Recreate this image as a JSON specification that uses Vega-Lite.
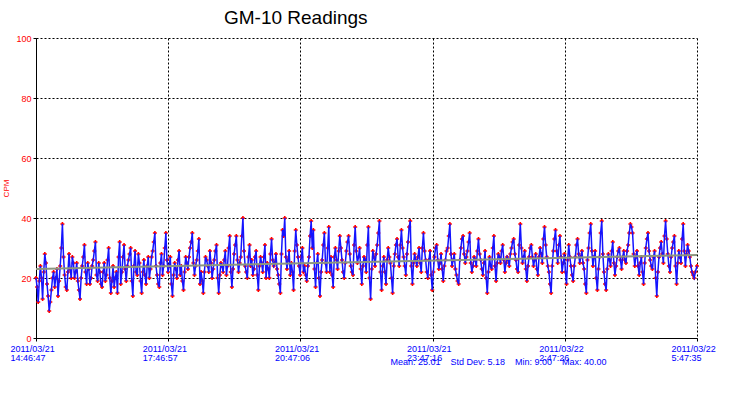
{
  "$schema": "https://vega.github.io/schema/vega-lite/v6.json",
  "width": 661,
  "height": 300,
  "autosize": {"type": "none"},
  "padding": {"left": 36, "top": 38, "right": 35, "bottom": 59},
  "background": "white",
  "config": {"view": {"stroke": null}, "font": "Liberation Sans"},
  "title": {"text": "GM-10 Readings", "anchor": "start", "dx": 221, "offset": 6, "fontSize": 19, "fontWeight": "normal", "color": "#000000", "font": "Liberation Sans"},
  "datasets": {
    "readings": [
      {"m":0,"v":20},{"m":3,"v":12},{"m":6,"v":24},{"m":9,"v":13},{"m":12,"v":28},{"m":15,"v":18},{"m":18,"v":9},{"m":21,"v":16},{"m":24,"v":22},{"m":27,"v":20},
      {"m":30,"v":14},{"m":33,"v":24},{"m":36,"v":38},{"m":39,"v":21},{"m":42,"v":16},{"m":45,"v":28},{"m":48,"v":20},{"m":51,"v":25},{"m":54,"v":22},{"m":57,"v":19},
      {"m":60,"v":13},{"m":63,"v":24},{"m":66,"v":31},{"m":69,"v":18},{"m":72,"v":23},{"m":75,"v":20},{"m":78,"v":26},{"m":81,"v":32},{"m":84,"v":19},{"m":87,"v":22},
      {"m":90,"v":17},{"m":93,"v":25},{"m":96,"v":21},{"m":99,"v":30},{"m":102,"v":15},{"m":105,"v":24},{"m":108,"v":20},{"m":111,"v":15},{"m":114,"v":32},{"m":117,"v":22},
      {"m":120,"v":31},{"m":123,"v":19},{"m":126,"v":26},{"m":129,"v":30},{"m":132,"v":14},{"m":135,"v":29},{"m":138,"v":21},{"m":141,"v":25},{"m":144,"v":15},{"m":147,"v":26},
      {"m":150,"v":18},{"m":153,"v":27},{"m":156,"v":23},{"m":159,"v":29},{"m":162,"v":35},{"m":165,"v":21},{"m":168,"v":17},{"m":171,"v":28},{"m":174,"v":24},{"m":177,"v":35},
      {"m":180,"v":22},{"m":183,"v":27},{"m":186,"v":14},{"m":189,"v":25},{"m":192,"v":20},{"m":195,"v":29},{"m":198,"v":24},{"m":201,"v":16},{"m":204,"v":27},{"m":207,"v":23},
      {"m":210,"v":30},{"m":213,"v":35},{"m":216,"v":21},{"m":219,"v":26},{"m":222,"v":33},{"m":225,"v":22},{"m":228,"v":15},{"m":231,"v":27},{"m":234,"v":24},{"m":237,"v":29},
      {"m":240,"v":20},{"m":243,"v":26},{"m":246,"v":31},{"m":249,"v":15},{"m":252,"v":25},{"m":255,"v":22},{"m":258,"v":29},{"m":261,"v":24},{"m":264,"v":34},{"m":267,"v":17},
      {"m":270,"v":28},{"m":273,"v":34},{"m":276,"v":22},{"m":279,"v":27},{"m":282,"v":40},{"m":285,"v":24},{"m":288,"v":20},{"m":291,"v":31},{"m":294,"v":26},{"m":297,"v":23},
      {"m":300,"v":29},{"m":303,"v":16},{"m":306,"v":27},{"m":309,"v":22},{"m":312,"v":31},{"m":315,"v":25},{"m":318,"v":20},{"m":321,"v":33},{"m":324,"v":24},{"m":327,"v":28},
      {"m":330,"v":21},{"m":333,"v":15},{"m":336,"v":36},{"m":339,"v":40},{"m":342,"v":23},{"m":345,"v":29},{"m":348,"v":25},{"m":351,"v":16},{"m":354,"v":36},{"m":357,"v":27},
      {"m":360,"v":21},{"m":363,"v":30},{"m":366,"v":24},{"m":369,"v":19},{"m":372,"v":27},{"m":375,"v":39},{"m":378,"v":36},{"m":381,"v":17},{"m":384,"v":28},{"m":387,"v":14},
      {"m":390,"v":26},{"m":393,"v":35},{"m":396,"v":22},{"m":399,"v":37},{"m":402,"v":27},{"m":405,"v":17},{"m":408,"v":30},{"m":411,"v":23},{"m":414,"v":34},{"m":417,"v":26},
      {"m":420,"v":20},{"m":423,"v":29},{"m":426,"v":34},{"m":429,"v":24},{"m":432,"v":21},{"m":435,"v":37},{"m":438,"v":25},{"m":441,"v":30},{"m":444,"v":18},{"m":447,"v":27},
      {"m":450,"v":22},{"m":453,"v":37},{"m":456,"v":13},{"m":459,"v":29},{"m":462,"v":24},{"m":465,"v":31},{"m":468,"v":39},{"m":471,"v":16},{"m":474,"v":27},{"m":477,"v":18},
      {"m":480,"v":30},{"m":483,"v":25},{"m":486,"v":15},{"m":489,"v":28},{"m":492,"v":33},{"m":495,"v":24},{"m":498,"v":36},{"m":501,"v":27},{"m":504,"v":21},{"m":507,"v":32},
      {"m":510,"v":39},{"m":513,"v":18},{"m":516,"v":28},{"m":519,"v":24},{"m":522,"v":30},{"m":525,"v":22},{"m":528,"v":35},{"m":531,"v":26},{"m":534,"v":20},{"m":537,"v":29},
      {"m":540,"v":16},{"m":543,"v":27},{"m":546,"v":31},{"m":549,"v":23},{"m":552,"v":28},{"m":555,"v":19},{"m":558,"v":26},{"m":561,"v":30},{"m":564,"v":38},{"m":567,"v":24},
      {"m":570,"v":28},{"m":573,"v":21},{"m":576,"v":18},{"m":579,"v":30},{"m":582,"v":34},{"m":585,"v":25},{"m":588,"v":29},{"m":591,"v":35},{"m":594,"v":22},{"m":597,"v":27},
      {"m":600,"v":24},{"m":603,"v":33},{"m":606,"v":26},{"m":609,"v":21},{"m":612,"v":29},{"m":615,"v":15},{"m":618,"v":27},{"m":621,"v":23},{"m":624,"v":34},{"m":627,"v":19},
      {"m":630,"v":28},{"m":633,"v":25},{"m":636,"v":31},{"m":639,"v":22},{"m":642,"v":27},{"m":645,"v":24},{"m":648,"v":30},{"m":651,"v":33},{"m":654,"v":26},{"m":657,"v":22},
      {"m":660,"v":38},{"m":663,"v":25},{"m":666,"v":29},{"m":669,"v":19},{"m":672,"v":27},{"m":675,"v":31},{"m":678,"v":24},{"m":681,"v":28},{"m":684,"v":21},{"m":687,"v":30},
      {"m":690,"v":25},{"m":693,"v":37},{"m":696,"v":27},{"m":699,"v":22},{"m":702,"v":15},{"m":705,"v":29},{"m":708,"v":36},{"m":711,"v":25},{"m":714,"v":34},{"m":717,"v":22},
      {"m":720,"v":28},{"m":723,"v":18},{"m":726,"v":31},{"m":729,"v":24},{"m":732,"v":19},{"m":735,"v":27},{"m":738,"v":33},{"m":741,"v":25},{"m":744,"v":29},{"m":747,"v":23},
      {"m":750,"v":15},{"m":753,"v":30},{"m":756,"v":38},{"m":759,"v":24},{"m":762,"v":29},{"m":765,"v":16},{"m":768,"v":27},{"m":771,"v":39},{"m":774,"v":22},{"m":777,"v":16},
      {"m":780,"v":28},{"m":783,"v":24},{"m":786,"v":32},{"m":789,"v":21},{"m":792,"v":27},{"m":795,"v":30},{"m":798,"v":23},{"m":801,"v":29},{"m":804,"v":25},{"m":807,"v":31},
      {"m":810,"v":38},{"m":813,"v":35},{"m":816,"v":24},{"m":819,"v":29},{"m":822,"v":21},{"m":825,"v":27},{"m":828,"v":18},{"m":831,"v":30},{"m":834,"v":35},{"m":837,"v":26},
      {"m":840,"v":23},{"m":843,"v":29},{"m":846,"v":14},{"m":849,"v":27},{"m":852,"v":32},{"m":855,"v":25},{"m":858,"v":39},{"m":861,"v":28},{"m":864,"v":22},{"m":867,"v":30},
      {"m":870,"v":34},{"m":873,"v":18},{"m":876,"v":29},{"m":879,"v":25},{"m":882,"v":38},{"m":885,"v":24},{"m":888,"v":31},{"m":891,"v":27},{"m":894,"v":22},{"m":897,"v":20},
      {"m":900.8,"v":24},
      {"m":1.5,"v":17},{"m":4.5,"v":19},{"m":7.5,"v":20},{"m":10.5,"v":22},{"m":13.5,"v":25},{"m":16.5,"v":14},{"m":19.5,"v":12},{"m":22.5,"v":20},{"m":25.5,"v":17},{"m":28.5,"v":23},
      {"m":31.5,"v":19},{"m":34.5,"v":30},{"m":37.5,"v":27},{"m":40.5,"v":17},{"m":43.5,"v":22},{"m":46.5,"v":23},{"m":49.5,"v":27},{"m":52.5,"v":20},{"m":55.5,"v":25},{"m":58.5,"v":16},
      {"m":61.5,"v":20},{"m":64.5,"v":27},{"m":67.5,"v":22},{"m":70.5,"v":25},{"m":73.5,"v":18},{"m":76.5,"v":24},{"m":79.5,"v":29},{"m":82.5,"v":21},{"m":85.5,"v":25},{"m":88.5,"v":18},
      {"m":91.5,"v":22},{"m":94.5,"v":19},{"m":97.5,"v":26},{"m":100.5,"v":20},{"m":103.5,"v":19},{"m":106.5,"v":17},{"m":109.5,"v":22},{"m":112.5,"v":27},{"m":115.5,"v":18},{"m":118.5,"v":27},
      {"m":121.5,"v":23},{"m":124.5,"v":24},{"m":127.5,"v":28},{"m":130.5,"v":19},{"m":133.5,"v":24},{"m":136.5,"v":22},{"m":139.5,"v":28},{"m":142.5,"v":19},{"m":145.5,"v":22},{"m":148.5,"v":21},
      {"m":151.5,"v":24},{"m":154.5,"v":20},{"m":157.5,"v":27},{"m":160.5,"v":32},{"m":163.5,"v":24},{"m":166.5,"v":18},{"m":169.5,"v":25},{"m":172.5,"v":21},{"m":175.5,"v":30},{"m":178.5,"v":26},
      {"m":181.5,"v":24},{"m":184.5,"v":18},{"m":187.5,"v":21},{"m":190.5,"v":23},{"m":193.5,"v":26},{"m":196.5,"v":21},{"m":199.5,"v":19},{"m":202.5,"v":22},{"m":205.5,"v":25},{"m":208.5,"v":27},
      {"m":211.5,"v":32},{"m":214.5,"v":25},{"m":217.5,"v":24},{"m":220.5,"v":29},{"m":223.5,"v":18},{"m":226.5,"v":19},{"m":229.5,"v":22},{"m":232.5,"v":26},{"m":235.5,"v":22},{"m":238.5,"v":25},
      {"m":241.5,"v":23},{"m":244.5,"v":29},{"m":247.5,"v":20},{"m":250.5,"v":21},{"m":253.5,"v":24},{"m":256.5,"v":26},{"m":259.5,"v":21},{"m":262.5,"v":30},{"m":265.5,"v":22},{"m":268.5,"v":23},
      {"m":271.5,"v":31},{"m":274.5,"v":26},{"m":277.5,"v":25},{"m":280.5,"v":34},{"m":283.5,"v":29},{"m":286.5,"v":22},{"m":289.5,"v":27},{"m":292.5,"v":24},{"m":295.5,"v":21},{"m":298.5,"v":27},
      {"m":301.5,"v":21},{"m":304.5,"v":24},{"m":307.5,"v":25},{"m":310.5,"v":27},{"m":313.5,"v":20},{"m":316.5,"v":23},{"m":319.5,"v":28},{"m":322.5,"v":26},{"m":325.5,"v":25},{"m":328.5,"v":23},
      {"m":331.5,"v":18},{"m":334.5,"v":28},{"m":337.5,"v":34},{"m":340.5,"v":27},{"m":343.5,"v":26},{"m":346.5,"v":21},{"m":349.5,"v":22},{"m":352.5,"v":29},{"m":355.5,"v":31},{"m":358.5,"v":24},
      {"m":361.5,"v":27},{"m":364.5,"v":22},{"m":367.5,"v":21},{"m":370.5,"v":24},{"m":373.5,"v":34},{"m":376.5,"v":30},{"m":379.5,"v":23},{"m":382.5,"v":25},{"m":385.5,"v":20},{"m":388.5,"v":22},
      {"m":391.5,"v":31},{"m":394.5,"v":25},{"m":397.5,"v":30},{"m":400.5,"v":22},{"m":403.5,"v":21},{"m":406.5,"v":27},{"m":409.5,"v":26},{"m":412.5,"v":29},{"m":415.5,"v":30},{"m":418.5,"v":22},
      {"m":421.5,"v":25},{"m":424.5,"v":32},{"m":427.5,"v":28},{"m":430.5,"v":22},{"m":433.5,"v":31},{"m":436.5,"v":29},{"m":439.5,"v":27},{"m":442.5,"v":23},{"m":445.5,"v":24},{"m":448.5,"v":26},
      {"m":451.5,"v":31},{"m":454.5,"v":20},{"m":457.5,"v":23},{"m":460.5,"v":27},{"m":463.5,"v":28},{"m":466.5,"v":35},{"m":469.5,"v":22},{"m":472.5,"v":24},{"m":475.5,"v":22},{"m":478.5,"v":26},
      {"m":481.5,"v":27},{"m":484.5,"v":20},{"m":487.5,"v":24},{"m":490.5,"v":31},{"m":493.5,"v":27},{"m":496.5,"v":31},{"m":499.5,"v":30},{"m":502.5,"v":24},{"m":505.5,"v":28},{"m":508.5,"v":37},
      {"m":511.5,"v":24},{"m":514.5,"v":25},{"m":517.5,"v":26},{"m":520.5,"v":27},{"m":523.5,"v":25},{"m":526.5,"v":30},{"m":529.5,"v":29},{"m":532.5,"v":22},{"m":535.5,"v":26},{"m":538.5,"v":21},
      {"m":541.5,"v":22},{"m":544.5,"v":30},{"m":547.5,"v":26},{"m":550.5,"v":25},{"m":553.5,"v":23},{"m":556.5,"v":24},{"m":559.5,"v":29},{"m":562.5,"v":34},{"m":565.5,"v":28},{"m":568.5,"v":26},
      {"m":571.5,"v":23},{"m":574.5,"v":19},{"m":577.5,"v":26},{"m":580.5,"v":33},{"m":583.5,"v":28},{"m":586.5,"v":27},{"m":589.5,"v":32},{"m":592.5,"v":25},{"m":595.5,"v":24},{"m":598.5,"v":26},
      {"m":601.5,"v":29},{"m":604.5,"v":28},{"m":607.5,"v":23},{"m":610.5,"v":25},{"m":613.5,"v":20},{"m":616.5,"v":22},{"m":619.5,"v":24},{"m":622.5,"v":30},{"m":625.5,"v":24},{"m":628.5,"v":25},
      {"m":631.5,"v":27},{"m":634.5,"v":29},{"m":637.5,"v":26},{"m":640.5,"v":25},{"m":643.5,"v":26},{"m":646.5,"v":28},{"m":649.5,"v":32},{"m":652.5,"v":28},{"m":655.5,"v":23},{"m":658.5,"v":31},
      {"m":661.5,"v":30},{"m":664.5,"v":27},{"m":667.5,"v":23},{"m":670.5,"v":24},{"m":673.5,"v":30},{"m":676.5,"v":27},{"m":679.5,"v":26},{"m":682.5,"v":23},{"m":685.5,"v":27},{"m":688.5,"v":28},
      {"m":691.5,"v":33},{"m":694.5,"v":31},{"m":697.5,"v":24},{"m":700.5,"v":18},{"m":703.5,"v":24},{"m":706.5,"v":33},{"m":709.5,"v":29},{"m":712.5,"v":31},{"m":715.5,"v":27},{"m":718.5,"v":25},
      {"m":721.5,"v":22},{"m":724.5,"v":26},{"m":727.5,"v":27},{"m":730.5,"v":21},{"m":733.5,"v":24},{"m":736.5,"v":31},{"m":739.5,"v":28},{"m":742.5,"v":27},{"m":745.5,"v":25},{"m":748.5,"v":18},
      {"m":751.5,"v":26},{"m":754.5,"v":35},{"m":757.5,"v":29},{"m":760.5,"v":27},{"m":763.5,"v":20},{"m":766.5,"v":23},{"m":769.5,"v":35},{"m":772.5,"v":28},{"m":775.5,"v":18},{"m":778.5,"v":23},
      {"m":781.5,"v":26},{"m":784.5,"v":29},{"m":787.5,"v":25},{"m":790.5,"v":24},{"m":793.5,"v":29},{"m":796.5,"v":26},{"m":799.5,"v":27},{"m":802.5,"v":26},{"m":805.5,"v":29},{"m":808.5,"v":35},
      {"m":811.5,"v":37},{"m":814.5,"v":28},{"m":817.5,"v":27},{"m":820.5,"v":24},{"m":823.5,"v":25},{"m":826.5,"v":22},{"m":829.5,"v":25},{"m":832.5,"v":33},{"m":835.5,"v":29},{"m":838.5,"v":24},
      {"m":841.5,"v":27},{"m":844.5,"v":20},{"m":847.5,"v":22},{"m":850.5,"v":30},{"m":853.5,"v":28},{"m":856.5,"v":34},{"m":859.5,"v":33},{"m":862.5,"v":24},{"m":865.5,"v":27},{"m":868.5,"v":32},
      {"m":871.5,"v":24},{"m":874.5,"v":25},{"m":877.5,"v":27},{"m":880.5,"v":33},{"m":883.5,"v":29},{"m":886.5,"v":28},{"m":889.5,"v":29},{"m":892.5,"v":24},{"m":895.5,"v":21},{"m":898.5,"v":22}
    ],
    "trend": [{"m":0,"v":23},{"m":900.8,"v":27.7}]
  },
  "encoding": {
    "x": {
      "field": "m", "type": "quantitative",
      "scale": {"domain": [0, 900.8], "nice": false, "zero": false},
      "axis": {
        "values": [0, 180.1667, 360.3167, 540.4833, 720.65, 900.8],
        "grid": true, "gridColor": "#000000", "gridDash": [2, 2], "gridWidth": 1, "gridOpacity": 1,
        "domainColor": "#000000", "domainWidth": 1,
        "tickColor": "#000000", "tickSize": 3,
        "labelExpr": "[timeFormat(datetime(2011,2,21,14,46,47+round(datum.value*60)),'%Y/%m/%d'), timeFormat(datetime(2011,2,21,14,46,47+round(datum.value*60)),'%-H:%M:%S')]",
        "labelAlign": "left", "labelOffset": -26, "labelBaseline": "top", "labelLineHeight": 9,
        "labelPadding": 3, "labelFontSize": 9, "labelColor": "#0000ff", "labelFont": "Liberation Sans",
        "labelFlush": false, "labelOverlap": false,
        "title": "Mean: 25.01\u00a0\u00a0\u00a0\u00a0Std Dev: 5.18\u00a0\u00a0\u00a0\u00a0Min: 9.00\u00a0\u00a0\u00a0\u00a0Max: 40.00",
        "titleX": 462, "titleY": 19, "titleAlign": "center", "titleBaseline": "top", "titleAnchor": null,
        "titleFontSize": 9, "titleFontWeight": "normal", "titleColor": "#0000ff", "titleFont": "Liberation Sans"
      }
    },
    "y": {
      "field": "v", "type": "quantitative",
      "scale": {"domain": [0, 100], "nice": false},
      "axis": {
        "values": [0, 20, 40, 60, 80, 100],
        "grid": true, "gridColor": "#000000", "gridDash": [2, 2], "gridWidth": 1, "gridOpacity": 1,
        "domainColor": "#000000", "domainWidth": 1,
        "tickColor": "#000000", "tickSize": 3,
        "labelColor": "#ff0000", "labelFontSize": 9, "labelPadding": 2, "labelFont": "Liberation Sans",
        "title": "CPM", "titleColor": "#ff0000", "titleFontSize": 8, "titleFontWeight": "normal", "titlePadding": 5, "titleFont": "Liberation Sans"
      }
    }
  },
  "layer": [
    {
      "data": {"name": "readings"},
      "mark": {"type": "point", "shape": "cross", "filled": true, "color": "#ff0000", "size": 16, "opacity": 1}
    },
    {
      "data": {"name": "readings"},
      "mark": {"type": "line", "color": "#1414ff", "strokeWidth": 1.5}
    },
    {
      "data": {"name": "trend"},
      "mark": {"type": "line", "color": "#8c9680", "strokeWidth": 2}
    }
  ]
}
